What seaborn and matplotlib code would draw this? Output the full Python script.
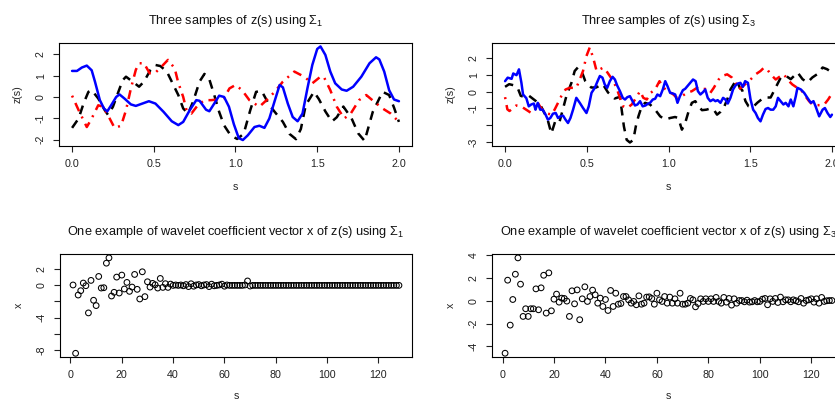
import numpy as np
import pandas as pd
import matplotlib
matplotlib.use("Agg")
import matplotlib.pyplot as plt
import seaborn as sns

sns.set_style("white")
plt.rcParams['font.family'] = ['Liberation Sans', 'DejaVu Sans']
plt.rcParams['mathtext.fontset'] = 'custom'
plt.rcParams['mathtext.rm'] = 'Liberation Sans'
plt.rcParams['mathtext.it'] = 'Liberation Sans:italic'
plt.rcParams['axes.unicode_minus'] = False

# ---------------- data: three samples of z(s) using Sigma_1 ----------------
s1_blue_s = [0.00, 0.03, 0.06, 0.09, 0.12, 0.14, 0.17, 0.195, 0.215, 0.24, 0.27, 0.29,
             0.32, 0.36, 0.39, 0.43, 0.47, 0.51, 0.56, 0.61, 0.65, 0.68, 0.72, 0.76,
             0.78, 0.82, 0.84, 0.87, 0.90, 0.93, 0.96, 0.99, 1.02, 1.045, 1.075,
             1.116, 1.146, 1.177, 1.207, 1.238, 1.27, 1.29, 1.32, 1.35, 1.38, 1.41,
             1.44, 1.47, 1.50, 1.52, 1.55, 1.58, 1.61, 1.65, 1.68, 1.72, 1.77, 1.82,
             1.86, 1.88, 1.91, 1.94, 1.97, 2.00]
s1_blue_z = [1.22, 1.22, 1.38, 1.47, 1.25, 0.72, -0.15, -0.54, -0.68, -0.38, 0.00, 0.12,
             -0.07, -0.35, -0.42, -0.31, -0.20, -0.31, -0.70, -1.14, -1.32, -1.17, -0.62, -0.15,
             -0.18, -0.60, -0.67, -0.31, 0.06, 0.00, -0.46, -1.28, -1.93, -2.02, -1.80,
             -1.41, -1.35, -1.45, -1.01, -0.23, 0.56, 0.45, -0.31, -0.94, -1.14, -0.78,
             0.40, 1.50, 2.25, 2.37, 1.97, 1.19, 0.64, 0.35, 0.29, 0.48, 0.95, 1.58,
             1.86, 1.76, 1.19, 0.32, -0.12, -0.20]

s1_black_s = [0.00, 0.04, 0.07, 0.10, 0.12, 0.16, 0.20, 0.22, 0.25, 0.28, 0.31, 0.33,
              0.37, 0.41, 0.44, 0.48, 0.51, 0.54, 0.58, 0.62, 0.65, 0.68, 0.71, 0.74,
              0.78, 0.81, 0.84, 0.87, 0.90, 0.93, 0.97, 1.01, 1.05, 1.09, 1.126, 1.16,
              1.207, 1.24, 1.29, 1.33, 1.37, 1.40, 1.43, 1.48, 1.51, 1.55, 1.59, 1.62,
              1.66, 1.71, 1.75, 1.79, 1.84, 1.90, 1.94, 1.97, 2.00]
s1_black_z = [-1.45, -1.01, -0.31, 0.24, 0.32, -0.07, -0.62, -0.84, -0.46, 0.17, 0.79, 0.95,
              0.72, 0.48, 0.72, 1.27, 1.50, 1.45, 1.19, 0.56, 0.09, -0.54, -0.78, -0.23,
              0.72, 1.08, 0.82, 0.09, -0.70, -1.33, -1.80, -1.97, -1.73, -0.63, 0.24, 0.28,
              -0.38, -0.70, -1.17, -1.73, -1.98, -1.50, -0.38, 0.24, -0.10, -0.68, -1.15, -0.95,
              -0.45, -1.00, -1.70, -2.06, -0.70, 0.24, 0.09, -0.50, -1.17]

s1_red_s = [0.00, 0.04, 0.09, 0.12, 0.16, 0.19, 0.23, 0.26, 0.30, 0.33, 0.36, 0.39,
            0.41, 0.44, 0.475, 0.506, 0.547, 0.587, 0.628, 0.648, 0.68, 0.70, 0.73, 0.77,
            0.81, 0.85, 0.89, 0.93, 0.963, 1.00, 1.04, 1.085, 1.146, 1.19, 1.24, 1.29,
            1.36, 1.42, 1.47, 1.52, 1.54, 1.58, 1.62, 1.665, 1.705, 1.756, 1.80, 1.85,
            1.90, 1.95, 2.00]
s1_red_z = [0.06, -0.62, -1.41, -1.01, -0.39, -0.46, -1.01, -1.45, -1.35, -0.62, 0.40, 1.27,
            1.58, 1.58, 1.11, 1.11, 1.42, 1.74, 1.34, 0.72, 0.00, -0.62, -0.78, -0.38,
            -0.15, -0.15, -0.12, -0.05, 0.40, 0.56, 0.32, -0.15, -0.46, -0.15, 0.24, 0.72,
            1.19, 0.95, 0.64, 0.95, 0.95, 0.32, -0.46, -1.01, -0.78, -0.15, 0.09, -0.23,
            -0.54, -0.78, -1.17]

# ---------------- data: three samples of z(s) using Sigma_3 ----------------
s3_blue_s = [0.00, 0.016, 0.04, 0.05, 0.07, 0.085, 0.10, 0.11, 0.13, 0.145, 0.16, 0.176,
             0.186, 0.20, 0.215, 0.23, 0.248, 0.262, 0.277, 0.293, 0.31, 0.324, 0.338, 0.355,
             0.37, 0.385, 0.40, 0.416, 0.436, 0.457, 0.477, 0.498, 0.512, 0.529, 0.549, 0.566,
             0.58, 0.596, 0.61, 0.625, 0.641, 0.658, 0.672, 0.686, 0.703, 0.72, 0.734, 0.748,
             0.764, 0.78, 0.795, 0.81, 0.826, 0.842, 0.859, 0.873, 0.887, 0.904, 0.918, 0.932,
             0.949, 0.965, 0.98, 0.994, 1.01, 1.027, 1.041, 1.055, 1.07, 1.088, 1.102, 1.119,
             1.133, 1.15, 1.166, 1.18, 1.195, 1.211, 1.225, 1.24, 1.256, 1.273, 1.287, 1.301,
             1.318, 1.334, 1.348, 1.363, 1.379, 1.395, 1.41, 1.424, 1.44, 1.455, 1.469, 1.486,
             1.502, 1.518, 1.533, 1.547, 1.563, 1.578, 1.594, 1.609, 1.625, 1.641, 1.656, 1.67,
             1.686, 1.703, 1.717, 1.734, 1.748, 1.764, 1.779, 1.789, 1.81, 1.83, 1.85, 1.871,
             1.887, 1.90, 1.922, 1.943, 1.957, 1.973, 1.99, 2.00]
s3_blue_z = [0.64, 0.85, 0.78, 1.10, 1.00, 1.35, 0.54, -0.16, -0.38, -0.87, -0.76, -0.70,
             -1.07, -0.66, -1.07, -1.07, -1.37, -1.67, -1.57, -1.31, -1.27, -1.57, -1.47, -1.43,
             -1.67, -1.87, -1.57, -1.07, -0.36, -0.66, -0.97, -1.27, -0.87, -0.06, 0.24, 0.64,
             0.95, 0.85, 0.44, 0.24, 0.64, 0.90, 0.74, 0.38, 0.04, -0.36, -0.46, -0.32,
             -0.26, -0.56, -0.82, -0.76, -0.56, -0.87, -0.82, -0.72, -0.66, -0.46, -0.42, -0.16,
             -0.26, 0.14, 0.64, 0.34, -0.06, -0.10, -0.16, -0.66, -0.26, 0.10, 0.18, 0.38,
             0.54, 0.74, 0.64, 0.04, -0.16, -0.02, 0.14, -0.36, -0.56, -0.46, -0.56, -0.50,
             -0.66, -0.36, -0.46, -0.70, -0.36, 0.14, 0.38, 0.50, 0.54, 0.30, 0.64, 0.54,
             -0.46, -1.07, -1.27, -1.57, -1.77, -1.37, -1.03, -0.97, -1.07, -1.07, -0.87, -0.36,
             -0.56, -0.76, -0.66, -0.87, -0.46, -0.87, -0.26, 0.24, 0.14, -0.06, -0.36, -0.66,
             -0.56, -0.87, -1.47, -1.07, -0.97, -1.27, -1.51, -1.37]

s3_black_s = [0.00, 0.025, 0.05, 0.076, 0.096, 0.127, 0.147, 0.188, 0.219, 0.25, 0.26, 0.283,
              0.31, 0.334, 0.375, 0.406, 0.426, 0.445, 0.475, 0.49, 0.527, 0.557, 0.598, 0.63,
              0.67, 0.703, 0.727, 0.744, 0.764, 0.785, 0.80, 0.816, 0.836, 0.857, 0.887, 0.918,
              0.949, 0.98, 1.01, 1.04, 1.06, 1.082, 1.102, 1.123, 1.143, 1.164, 1.184, 1.205,
              1.232, 1.256, 1.277, 1.297, 1.318, 1.342, 1.363, 1.379, 1.404, 1.42, 1.436, 1.451,
              1.471, 1.49, 1.513, 1.544, 1.584, 1.625, 1.656, 1.687, 1.718, 1.748, 1.79, 1.82,
              1.85, 1.88, 1.91, 1.943, 1.97, 2.00]
s3_black_z = [0.30, 0.46, 0.40, 0.26, -0.24, -0.34, -0.24, -0.55, -0.85, -1.45, -1.65, -2.50,
              -1.67, -1.77, -0.26, 0.54, 1.25, 1.46, 1.06, 0.66, 0.26, 0.26, 0.46, -0.04,
              -0.40, -0.30, -2.07, -2.88, -3.04, -2.88, -2.07, -1.47, -0.87, -0.66, -0.76, -1.07,
              -1.47, -1.67, -1.57, -1.51, -1.57, -2.27, -1.87, -1.17, -0.66, -0.56, -0.87, -1.10,
              -1.07, -1.00, -1.07, -1.37, -1.20, -0.87, -0.36, 0.14, 0.54, 0.66, 0.24, 0.10,
              -0.56, -0.87, -0.95, -0.65, -0.34, -0.34, 0.26, 0.86, 0.96, 0.76, 1.16, 0.76,
              0.56, 0.86, 1.06, 1.46, 1.36, 1.16]

s3_red_s = [0.00, 0.014, 0.027, 0.068, 0.098, 0.129, 0.16, 0.18, 0.20, 0.22, 0.25, 0.283,
            0.303, 0.324, 0.344, 0.37, 0.395, 0.436, 0.457, 0.477, 0.498, 0.518, 0.539, 0.56,
            0.58, 0.60, 0.62, 0.641, 0.662, 0.682, 0.703, 0.723, 0.748, 0.775, 0.795, 0.826,
            0.846, 0.867, 0.891, 0.918, 0.945, 0.969, 1.00, 1.03, 1.051, 1.082, 1.113, 1.143,
            1.174, 1.199, 1.225, 1.256, 1.277, 1.307, 1.328, 1.359, 1.389, 1.41, 1.43, 1.45,
            1.48, 1.502, 1.533, 1.563, 1.584, 1.604, 1.625, 1.656, 1.686, 1.707, 1.727, 1.758,
            1.779, 1.81, 1.83, 1.86, 1.88, 1.91, 1.932, 1.953, 1.977, 2.00]
s3_red_z = [-0.32, -1.05, -1.15, -0.82, -0.87, -1.07, -1.27, -1.17, -0.66, -0.97, -1.27, -1.37,
            -1.07, -0.66, -0.26, 0.14, 0.24, 0.24, 0.74, 1.25, 2.15, 2.66, 2.05, 1.25,
            1.35, 1.45, 1.25, 0.95, 0.64, 0.24, -0.36, -0.87, -0.97, -0.76, -0.46, 0.04,
            -0.36, -0.46, -0.06, 0.14, 0.64, 0.24, 0.04, -0.16, -0.36, -0.26, -0.06, 0.04,
            0.24, 0.14, 0.18, -0.06, 0.24, 0.74, 0.95, 1.05, 0.85, 0.54, 0.14, 0.30,
            0.54, 0.74, 1.05, 1.25, 1.45, 1.35, 1.05, 0.74, 0.95, 1.05, 0.74, 0.44,
            0.30, 0.14, -0.16, -0.56, -0.76, -0.80, -0.80, -0.76, -0.46, -0.10]

# ---------------- data: wavelet coefficient vectors ----------------
coef_index = list(range(1, 129))
coef_sigma1 = [0.05, -8.44, -1.20, -0.66, 0.29, -0.04, -3.42, 0.62, -1.85, -2.51,
               1.11, -0.33, -0.29, 2.76, 3.42, -1.32, -0.86, 1.03, -0.95, 1.28,
               -0.45, 0.37, -0.74, -0.21, 1.36, -0.49, -1.69, 1.69, -1.40, 0.45,
               -0.21, 0.25, 0.08, -0.33, 0.86, -0.25, 0.21, -0.25, 0.16, 0.00,
               0.05, 0.00, 0.05, -0.05, 0.10, -0.15, 0.20, -0.10, 0.05, 0.10,
               -0.05, 0.05, 0.10, -0.15, 0.15, -0.05, 0.00, 0.05, 0.15, -0.10,
               0.05, 0.00, 0.00, 0.00, 0.00, 0.00, 0.00, 0.05, 0.55, -0.08] + [0.0] * 58
coef_sigma3 = [-4.60, 1.79, -2.14, 0.10, 2.31, 3.74, 1.44, -1.38, -0.71, -1.38,
               -0.71, -0.71, 1.03, -0.80, 1.12, 2.22, -1.09, 2.43, -0.89, 0.13,
               0.57, -0.13, 0.22, 0.19, -0.04, -1.38, 0.86, -0.28, 0.94, -1.67,
               0.16, 1.21, -0.07, 0.36, 0.92, 0.51, -0.22, 0.22, -0.51, 0.10,
               -0.86, 0.89, -0.51, 0.65, -0.31, -0.25, 0.36, 0.36, 0.07, -0.22,
               -0.07, -0.36, 0.42, -0.31, -0.22, 0.31, 0.33, 0.19, -0.31, 0.65,
               0.07, -0.07, 0.36, -0.22, 0.31, -0.22, 0.16, -0.22, 0.65, -0.31,
               -0.31, -0.22, 0.19, 0.07, -0.54, -0.25, 0.16, -0.07, 0.16, -0.07,
               0.16, -0.07, 0.28, -0.07, -0.22, 0.28, -0.13, 0.19, -0.39, 0.16,
               -0.22, 0.01, 0.01, -0.10, 0.04, -0.13, -0.10, 0.01, -0.10, -0.07,
               0.13, 0.19, -0.36, 0.16, -0.07, 0.19, -0.16, 0.31, -0.10, 0.07,
               0.07, -0.10, 0.07, -0.01, -0.10, 0.19, -0.22, 0.01, 0.07, 0.16,
               -0.13, 0.16, -0.22, 0.28, -0.07, -0.01, 0.01, 0.01]

top_xticks = [0.0, 0.5, 1.0, 1.5, 2.0]
top_xticklabels = ["0.0", "0.5", "1.0", "1.5", "2.0"]
tl_yticks = [-2, -1, 0, 1, 2]
tl_yticklabels = ["-2", "-1", "0", "1", "2"]
tr_yticks = [-3, -2, -1, 0, 1, 2]
tr_yticklabels = ["-3", "", "-1", "0", "1", "2"]
bot_xticks = [0, 20, 40, 60, 80, 100, 120]
bl_yticks = [-8, -6, -4, -2, 0, 2]
bl_yticklabels = ["-8", "", "-4", "", "0", "2"]
br_yticks = [-4, -2, 0, 2, 4]
br_yticklabels = ["-4", "-2", "0", "2", "4"]

titles = [r"Three samples of z(s) using $\Sigma_1$",
          r"Three samples of z(s) using $\Sigma_3$",
          r"One example of wavelet coefficient vector x of z(s) using $\Sigma_1$",
          r"One example of wavelet coefficient vector x of z(s) using $\Sigma_3$"]

# ---------------- figure ----------------
W, H = 835, 400
fig = plt.figure(figsize=(W / 100, H / 100), dpi=100)
fig.patch.set_facecolor("white")


def rect(left, top, right, bottom):
    return [left / W, 1 - bottom / H, (right - left) / W, (bottom - top) / H]


ax_tl = fig.add_axes(rect(59, 43, 412, 146))
ax_tr = fig.add_axes(rect(492, 43, 845, 146))
ax_bl = fig.add_axes(rect(60, 254, 412, 357))
ax_br = fig.add_axes(rect(492, 254, 845, 357))

TICK_FS = 7.7
TITLE_FS = 9.2


def style(ax, xlim, ylim, xticks, xticklabels, yticks, yticklabels, xlabel, ylabel,
          title, xlab_y):
    ax.set_xlim(*xlim)
    ax.set_ylim(*ylim)
    ax.set_xticks(xticks)
    ax.set_xticklabels(xticklabels, fontsize=TICK_FS)
    ax.set_yticks(yticks)
    ax.set_yticklabels(yticklabels, fontsize=TICK_FS, rotation=90, va="center")
    ax.tick_params(axis="both", direction="out", length=4.5, width=0.8, pad=5,
                   colors="#222222", bottom=True, left=True)
    for sp in ax.spines.values():
        sp.set_visible(True)
        sp.set_color("black")
        sp.set_linewidth(0.8)
    ax.set_xlabel(xlabel, fontsize=TICK_FS)
    ax.set_ylabel(ylabel, fontsize=TICK_FS)
    ax.xaxis.set_label_coords(0.5, xlab_y)
    ax.yaxis.set_label_coords(-0.103, 0.5)
    ax.set_title(title, fontsize=TITLE_FS, pad=14, color="#111111")
    ax.grid(False)
    ax.set_facecolor("white")


def draw_line(ax, xs, ys, color, ls, lw=1.8):
    sns.lineplot(x=xs, y=ys, ax=ax, color=color, linewidth=lw, legend=False,
                 estimator=None, sort=False)
    ln = ax.get_lines()[-1]
    ln.set_linestyle(ls)
    ln.set_solid_capstyle("round")
    ln.set_solid_joinstyle("round")


dashed = (0, (3.6, 2.8))
dotdash = (0, (0.8, 2.4, 3.6, 2.4))

for ax, data in [(ax_tl, (s1_black_s, s1_black_z, s1_red_s, s1_red_z, s1_blue_s, s1_blue_z)),
                 (ax_tr, (s3_black_s, s3_black_z, s3_red_s, s3_red_z, s3_blue_s, s3_blue_z))]:
    bs, bz, rs, rz, us, uz = data
    draw_line(ax, bs, bz, "black", dashed)
    draw_line(ax, rs, rz, "#FF0000", dotdash)
    draw_line(ax, us, uz, "#0000FF", "-")

style(ax_tl, (-0.08, 2.08), (-2.30, 2.53), top_xticks, top_xticklabels, tl_yticks,
      tl_yticklabels, "s", "z(s)", titles[0], -0.35)
style(ax_tr, (-0.08, 2.08), (-3.25, 2.93), top_xticks, top_xticklabels, tr_yticks,
      tr_yticklabels, "s", "z(s)", titles[1], -0.35)

for ax, vals in [(ax_bl, coef_sigma1), (ax_br, coef_sigma3)]:
    df = pd.DataFrame({"i": coef_index, "x": vals})
    sns.scatterplot(data=df, x="i", y="x", ax=ax, s=17, marker="o", color="black",
                    legend=False)
    coll = ax.collections[-1]
    coll.set_facecolor("none")
    coll.set_edgecolor("black")
    coll.set_linewidth(0.75)

style(ax_bl, (-4.08, 133.08), (-8.90, 3.90), bot_xticks, [str(t) for t in bot_xticks],
      bl_yticks, bl_yticklabels, "s", "x", titles[2], -0.33)
style(ax_br, (-4.08, 133.08), (-4.93, 4.08), bot_xticks, [str(t) for t in bot_xticks],
      br_yticks, br_yticklabels, "s", "x", titles[3], -0.33)

fig.savefig("out.png", dpi=100, facecolor="white")
